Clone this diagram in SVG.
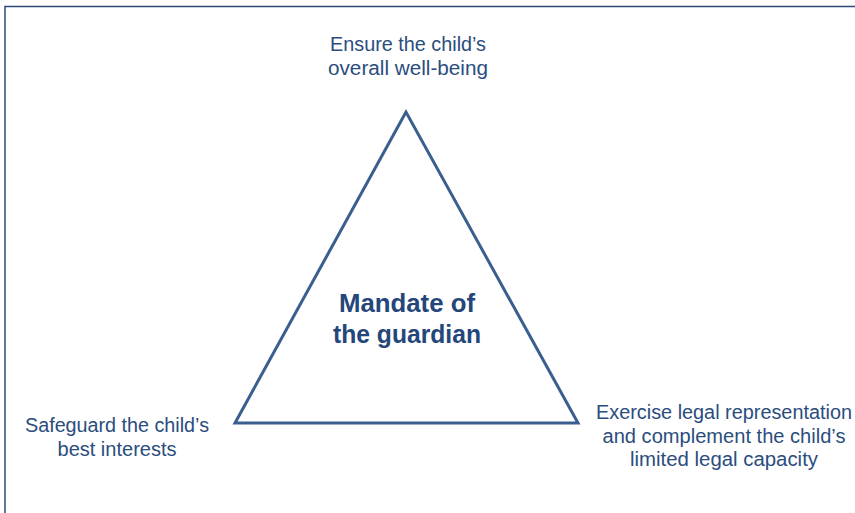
<svg xmlns="http://www.w3.org/2000/svg" width="855" height="513" viewBox="0 0 855 513">
<style>
.lbl{font-family:"Liberation Sans",Arial,sans-serif;font-size:19.5px;fill:#2b4d7e;text-anchor:middle}
.ttl{font-family:"Liberation Sans",Arial,sans-serif;font-size:26px;font-weight:bold;fill:#24467a;text-anchor:middle}
.frame{stroke:#2c4a7a;stroke-width:1.5;fill:none}
</style>
<rect width="855" height="513" fill="#fff"/>
<path class="frame" d="M5,513 V6.5 H855"/>
<g id="connectors">
<polygon points="406,112 235,423 578,423" fill="none" stroke="#3a5f8f" stroke-width="3" stroke-linejoin="miter"/>
</g>
<g id="center"><text class="ttl" x="407" y="312" textLength="136" lengthAdjust="spacingAndGlyphs">Mandate of</text><text class="ttl" x="407" y="343" textLength="148" lengthAdjust="spacingAndGlyphs">the guardian</text></g>
<g id="top"><text class="lbl" x="408" y="51" textLength="156" lengthAdjust="spacingAndGlyphs">Ensure the child’s</text><text class="lbl" x="408" y="75" textLength="160" lengthAdjust="spacingAndGlyphs">overall well-being</text></g>
<g id="left"><text class="lbl" x="117" y="432" textLength="184" lengthAdjust="spacingAndGlyphs">Safeguard the child’s</text><text class="lbl" x="117" y="456" textLength="119" lengthAdjust="spacingAndGlyphs">best interests</text></g>
<g id="right"><text class="lbl" x="724" y="419" textLength="256" lengthAdjust="spacingAndGlyphs">Exercise legal representation</text><text class="lbl" x="724" y="443" textLength="243" lengthAdjust="spacingAndGlyphs">and complement the child’s</text><text class="lbl" x="724" y="466" textLength="188" lengthAdjust="spacingAndGlyphs">limited legal capacity</text></g>
</svg>
